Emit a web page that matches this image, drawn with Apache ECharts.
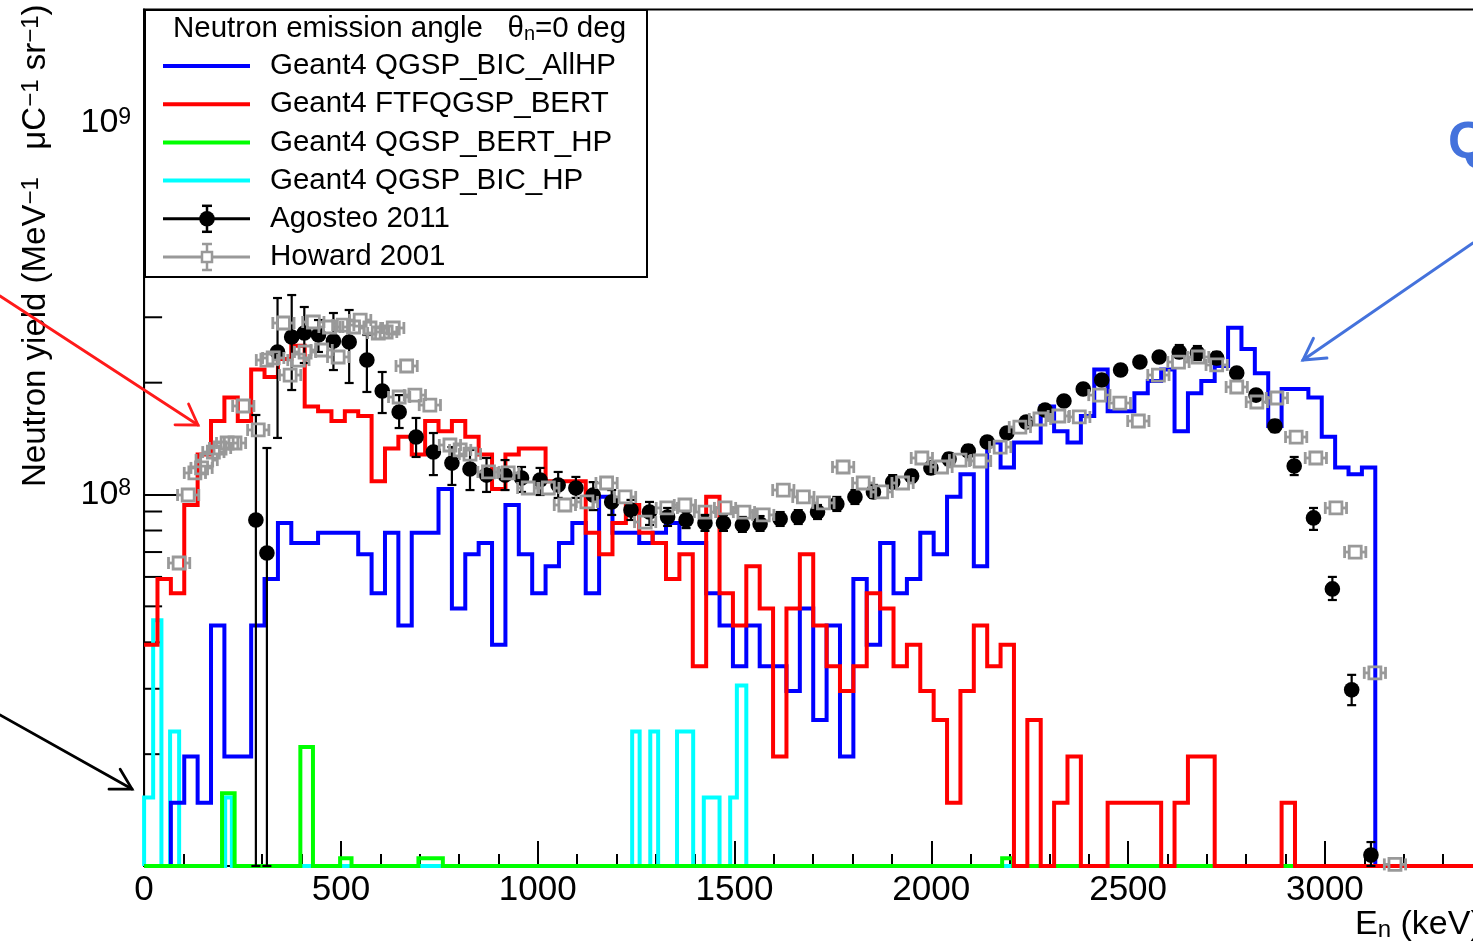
<!DOCTYPE html>
<html>
<head>
<meta charset="utf-8">
<script src="https://cdn.jsdelivr.net/npm/echarts@6/dist/echarts.min.js"></script>
<style>
html, body { margin: 0; padding: 0; background: #fff; }
#chart { width: 1473px; height: 946px; }
</style>
</head>
<body>
<div id="chart"></div>
<script>
// ---- Data -------------------------------------------------------------
// Yields are given in units of 1e7 neutrons MeV^-1 uC^-1 sr^-1.
const UNIT = 1e7;
const BIN_WIDTH = 34;      // keV, simulated histograms
const E_MAX = 3400;        // keV, end of the histogram range

// Geant4 QGSP_BIC_AllHP, 100 bins of 34 keV
const bicAllHP = [
  0, 0, 1.48, 1.97, 1.48, 4.44, 1.97, 1.97, 4.44, 5.92,
  8.38, 7.40, 7.40, 7.89, 7.89, 7.89, 6.90, 5.42, 7.89, 4.44,
  7.89, 7.89, 10.35, 4.93, 6.90, 7.40, 3.94, 9.37, 6.90, 5.42,
  6.41, 7.40, 8.38, 5.42, 9.86, 7.89, 7.89, 7.40, 7.89, 8.38,
  7.40, 7.40, 5.42, 4.44, 3.45, 4.44, 3.45, 3.45, 2.96, 4.93,
  2.47, 4.44, 1.97, 5.92, 3.94, 7.40, 5.42, 5.92, 7.89, 6.90,
  9.86, 11.34, 6.41, 13.80, 11.83, 13.80, 13.80, 17.26, 14.79, 13.80,
  16.27, 21.69, 16.76, 16.76, 18.73, 20.21, 21.69, 14.79, 18.73, 20.21,
  22.19, 28.10, 24.65, 21.20, 15.28, 19.23, 19.23, 18.24, 14.30, 11.83,
  11.34, 11.83, 0, 0, 0, 0, 0, 0, 0, 0
];

// Geant4 FTFQGSP_BERT, 100 bins of 34 keV
const ftfqgspBert = [
  3.94, 5.92, 5.42, 9.37, 12.82, 15.78, 18.24, 15.78, 21.69, 20.71,
  23.17, 25.14, 17.26, 16.76, 15.78, 16.76, 16.27, 10.85, 13.31, 14.30,
  12.82, 15.78, 14.79, 15.78, 14.30, 12.82, 10.35, 12.82, 13.31, 13.31,
  10.85, 10.85, 10.85, 7.89, 6.90, 8.38, 9.37, 7.89, 7.40, 5.92,
  6.90, 3.45, 9.86, 5.42, 4.44, 6.41, 4.93, 1.97, 4.93, 6.90,
  4.44, 3.45, 2.96, 3.45, 5.42, 4.93, 3.45, 3.94, 2.96, 2.47,
  1.48, 2.96, 4.44, 3.45, 3.94, 0, 2.47, 0, 1.48, 1.97,
  0, 0, 1.48, 1.48, 1.48, 1.48, 0, 1.48, 1.97, 1.97,
  0, 0, 0, 0, 0, 1.48, 0, 0, 0, 0,
  0, 0, 0, 0, 0, 0, 0, 0, 0, 0
];

// Geant4 QGSP_BERT_HP, non-empty bins: [E low keV, E high keV, yield]
const qgspBertHP = [
  [198, 230, 1.57], [397, 429, 2.09], [498, 527, 1.05],
  [697, 759, 1.05], [2180, 2208, 1.05]
];

// Geant4 QGSP_BIC_HP, non-empty bins: [E low keV, E high keV, yield]
const qgspBicHP = [
  [0, 23, 1.53], [23, 44, 4.59], [66, 89, 2.30], [206, 223, 1.53],
  [1240, 1259, 2.30], [1286, 1306, 2.30], [1354, 1395, 2.30],
  [1422, 1462, 1.53], [1489, 1506, 1.53], [1506, 1530, 3.06]
];

// Agosteo 2011: energy (keV), yield, lower and upper error limits
const agosteoE = [
  284, 312, 339, 375, 407, 443, 481, 521, 566, 605,
  648, 691, 735, 782, 828, 870, 917, 959, 1006, 1052,
  1097, 1141, 1188, 1237, 1284, 1330, 1377, 1425, 1472, 1520,
  1565, 1616, 1662, 1711, 1760, 1806, 1853, 1902, 1950, 1999,
  2045, 2094, 2142, 2192, 2241, 2289, 2337, 2386, 2433, 2481,
  2530, 2579, 2630, 2676, 2725, 2776, 2825, 2873, 2922, 2971,
  3019, 3068, 3117
];
const agosteoY = [
  8.54, 6.96, 24.19, 26.55, 27.21, 26.88, 25.89, 25.73, 23.01, 18.99,
  16.68, 14.28, 13.01, 12.15, 11.71, 11.28, 11.28, 11.07, 10.94, 10.61,
  10.41, 9.97, 9.55, 9.08, 8.97, 8.70, 8.54, 8.38, 8.38, 8.28,
  8.33, 8.59, 8.70, 8.97, 9.43, 9.85, 10.16, 10.80, 11.21, 11.79,
  12.46, 13.09, 13.85, 14.64, 15.67, 16.89, 17.85, 19.23, 20.34, 21.63,
  22.73, 23.45, 24.19, 24.04, 23.31, 21.23, 18.52, 15.29, 11.93, 8.65,
  5.57, 2.98, 1.07
];
const agosteoLo = [
  0, 0, 14.20, 19.11, 22.59, 24.19, 21.63, 19.96, 18.88, 16.57,
  15.10, 12.62, 11.28, 10.61, 10.28, 10.16, 10.28, 10.16, 9.97, 9.79,
  9.79, 9.08, 8.81, 8.54, 8.28, 8.23, 8.12, 7.98, 7.98, 7.93,
  7.98, 8.23, 8.33, 8.59, 9.03, 9.43, 9.79, 10.41, 10.80, 11.36,
  12.00, 12.70, 13.42, 14.20, 15.19, 16.37, 17.31, 18.64, 19.71, 20.97,
  22.04, 22.73, 23.31, 23.01, 22.45, 20.59, 17.96, 14.73, 11.28, 8.03,
  5.20, 2.71, 0.98
];
const agosteoHi = [
  16.37, 13.34, 33.80, 34.43, 31.97, 29.49, 30.80, 31.38, 26.88, 21.37,
  18.52, 16.07, 14.64, 13.42, 13.18, 12.54, 12.38, 11.86, 11.79, 11.50,
  11.15, 10.80, 10.28, 9.67, 9.55, 9.20, 8.97, 8.81, 8.81, 8.70,
  8.75, 8.97, 9.08, 9.37, 9.85, 10.28, 10.61, 11.28, 11.64, 12.23,
  12.93, 13.59, 14.28, 15.10, 16.17, 17.41, 18.41, 19.84, 20.97, 22.32,
  23.45, 24.19, 25.26, 25.10, 24.19, 21.90, 19.11, 15.87, 12.62, 9.20,
  6.00, 3.27, 1.16
];

// Howard 2001: energy (keV), yield, energy half-width (keV)
const howardE = [
  89, 112, 129, 146, 159, 176, 193, 211, 231, 252,
  290, 312, 328, 354, 371, 392, 409, 430, 451, 471,
  493, 506, 532, 549, 574, 595, 615, 633, 648, 667,
  688, 726, 777, 803, 828, 875, 925, 976, 1027, 1069,
  1125, 1175, 1222, 1273, 1328, 1374, 1425, 1476, 1524, 1573,
  1624, 1675, 1726, 1776, 1827, 1874, 1927, 1976, 2026, 2073,
  2124, 2175, 2225, 2276, 2324, 2376, 2427, 2479, 2526, 2577,
  2628, 2678, 2725, 2776, 2827, 2878, 2927, 2977, 3028, 3077,
  3127, 3178
];
const howardY = [
  6.54, 9.97, 11.43, 11.79, 12.38, 13.01, 13.34, 13.76, 13.76, 17.31,
  14.92, 23.01, 23.31, 28.95, 20.97, 23.01, 24.19, 29.13, 24.49, 28.24,
  23.45, 28.59, 28.24, 29.49, 28.07, 27.21, 27.38, 28.07, 18.30, 22.18,
  18.52, 17.41, 13.59, 13.18, 12.85, 11.50, 11.43, 10.41, 10.41, 9.37,
  9.55, 10.74, 9.85, 8.43, 9.20, 9.37, 8.97, 9.20, 8.97, 8.81,
  10.28, 9.85, 9.49, 11.86, 10.74, 10.16, 10.74, 12.54, 11.86, 12.38,
  12.31, 13.42, 15.19, 15.97, 16.27, 16.17, 18.52, 17.63, 15.77, 20.97,
  22.73, 23.45, 22.32, 19.47, 17.74, 18.19, 14.28, 12.54, 9.20, 7.00,
  3.31, 1.01
];
const howardDE = 27;

// Axis settings
const X_MAX = 3500;
const X_STEP = 500;
const Y_MIN = 1e7;
const Y_MAX = 2.021e9;
const yMinorTicks = [2e7, 3e7, 4e7, 5e7, 6e7, 7e7, 8e7, 9e7,
                     2e8, 3e8, 4e8, 5e8, 6e8, 7e8, 8e8, 9e8, 2e9];

// ---- Helpers ----------------------------------------------------------
const FONT = "'Liberation Sans', Arial, Helvetica, sans-serif";
const GREY = '#999999';

// empty or below-range bins sit on the bottom of the frame
function clampYield(v) { return Math.max(v * UNIT, Y_MIN); }

function regularSteps(vals) {
  const pts = vals.map((v, i) => [i * BIN_WIDTH, clampYield(v)]);
  pts.push([vals.length * BIN_WIDTH, clampYield(vals[vals.length - 1])]);
  return pts;
}

function sparseSteps(bins) {
  const pts = [[0, Y_MIN]];
  let prevHi = null;
  bins.forEach(([lo, hi, v]) => {
    if (prevHi !== null && prevHi !== lo) pts.push([prevHi, Y_MIN]);
    pts.push([lo, clampYield(v)]);
    prevHi = hi;
  });
  pts.push([prevHi, Y_MIN]);
  pts.push([E_MAX, Y_MIN]);
  return pts;
}

function histSeries(name, color, data) {
  return {
    name, type: 'line', step: 'end', data,
    showSymbol: false, symbol: 'none', clip: false, silent: true,
    animation: false,
    lineStyle: { color, width: 4, join: 'miter', cap: 'butt' },
    z: 3
  };
}

// ---- Chart ------------------------------------------------------------
const chart = echarts.init(document.getElementById('chart'), null, { renderer: 'canvas' });

const GRID = { left: 144.1, top: 9.5, width: 1377.6, height: 856.5 };

const option = {
  backgroundColor: '#fff',
  animation: false,
  grid: {
    left: GRID.left, top: GRID.top, width: GRID.width, height: GRID.height,
    show: true, borderColor: '#000', borderWidth: 2, backgroundColor: 'transparent',
    containLabel: false, outerBoundsMode: 'none'
  },
  xAxis: {
    type: 'value', min: 0, max: X_MAX, interval: X_STEP,
    axisLine: { lineStyle: { color: '#000', width: 2 } },
    axisTick: { inside: true, length: 25, lineStyle: { color: '#000', width: 2 } },
    minorTick: { show: true, splitNumber: 5, length: 12, lineStyle: { color: '#000', width: 2 } },
    splitLine: { show: false },
    axisLabel: {
      color: '#000', fontSize: 35, fontFamily: FONT, margin: 7,
      formatter: v => (v % X_STEP === 0 ? String(v) : '')
    }
  },
  yAxis: {
    type: 'log', logBase: 10, min: Y_MIN, max: Y_MAX,
    axisLine: { lineStyle: { color: '#000', width: 2 } },
    axisTick: { inside: true, length: 36, lineStyle: { color: '#000', width: 2 } },
    minorTick: { show: false },
    splitLine: { show: false },
    axisLabel: {
      margin: 13, color: '#000',
      formatter: v => {
        const p = Math.log10(v);
        const r = Math.round(p);
        if (Math.abs(p - r) > 1e-6 || r <= 7) return '';
        return '{a|10}{s|' + r + '}';
      },
      rich: {
        a: { fontSize: 34, lineHeight: 34, fontFamily: FONT, color: '#000', verticalAlign: 'bottom' },
        s: { fontSize: 23, lineHeight: 23, fontFamily: FONT, color: '#000', verticalAlign: 'top', padding: [0, 0, 13, 0] }
      }
    }
  },
  series: [
    // log-axis minor ticks (2..9 x 10^n)
    {
      type: 'custom', silent: true, z: 1, clip: false,
      data: yMinorTicks.map(v => [0, v]),
      encode: { x: 0, y: 1 },
      renderItem: (params, api) => {
        const p = api.coord([0, api.value(1)]);
        return {
          type: 'line',
          shape: { x1: p[0], y1: p[1], x2: p[0] + 18, y2: p[1] },
          style: { stroke: '#000', lineWidth: 2 }
        };
      }
    },
    histSeries('Geant4 QGSP_BIC_HP', '#00ffff', sparseSteps(qgspBicHP)),
    histSeries('Geant4 QGSP_BIC_AllHP', '#0000ff', regularSteps(bicAllHP)),
    histSeries('Geant4 QGSP_BERT_HP', '#00ff00', sparseSteps(qgspBertHP)),
    histSeries('Geant4 FTFQGSP_BERT', '#ff0000', regularSteps(ftfqgspBert)),
    {
      name: 'Agosteo 2011', type: 'custom', z: 5, clip: false, silent: true,
      data: agosteoE.map((e, i) => [e, agosteoY[i] * UNIT, agosteoLo[i] * UNIT, agosteoHi[i] * UNIT]),
      encode: { x: 0, y: 1 },
      renderItem: (params, api) => {
        const e = api.value(0);
        const c = api.coord([e, api.value(1)]);
        const lo = api.coord([e, Math.max(api.value(2), Y_MIN)]);
        const hi = api.coord([e, api.value(3)]);
        const st = { stroke: '#000', lineWidth: 2.2 };
        return {
          type: 'group',
          children: [
            { type: 'line', shape: { x1: c[0], y1: hi[1], x2: c[0], y2: lo[1] }, style: st },
            { type: 'line', shape: { x1: c[0] - 4.5, y1: hi[1], x2: c[0] + 4.5, y2: hi[1] }, style: st },
            { type: 'line', shape: { x1: c[0] - 4.5, y1: lo[1], x2: c[0] + 4.5, y2: lo[1] }, style: st },
            { type: 'circle', shape: { cx: c[0], cy: c[1], r: 7.8 }, style: { fill: '#000' } }
          ]
        };
      }
    },
    {
      name: 'Howard 2001', type: 'custom', z: 6, clip: false, silent: true,
      data: howardE.map((e, i) => [e, howardY[i] * UNIT]),
      encode: { x: 0, y: 1 },
      renderItem: (params, api) => {
        const e = api.value(0), y = api.value(1);
        const c = api.coord([e, y]);
        const l = api.coord([e - howardDE, y]);
        const r = api.coord([e + howardDE, y]);
        const st = { stroke: GREY, lineWidth: 2.8, fill: null };
        const h = 6;
        const cap = 6;
        return {
          type: 'group',
          children: [
            { type: 'line', shape: { x1: l[0], y1: c[1], x2: c[0] - h, y2: c[1] }, style: st },
            { type: 'line', shape: { x1: c[0] + h, y1: c[1], x2: r[0], y2: c[1] }, style: st },
            { type: 'line', shape: { x1: l[0], y1: c[1] - cap, x2: l[0], y2: c[1] + cap }, style: st },
            { type: 'line', shape: { x1: r[0], y1: c[1] - cap, x2: r[0], y2: c[1] + cap }, style: st },
            { type: 'rect', shape: { x: c[0] - h, y: c[1] - h, width: 2 * h, height: 2 * h },
              style: { stroke: GREY, lineWidth: 2.8, fill: 'rgba(255,255,255,0)' } }
          ]
        };
      }
    }
  ]
};

// ---- Legend, titles and annotations ----------------------------------
function buildGraphics() {
  const items = [];
  const LZ = 100;
  const lx = 145, ly = 10, lw = 502, lh = 267;
  const rows = [66, 104.2, 142.4, 180.6, 218.8, 257];
  const entries = [
    { label: 'Geant4 QGSP_BIC_AllHP', color: '#0000ff', kind: 'hist' },
    { label: 'Geant4 FTFQGSP_BERT', color: '#ff0000', kind: 'hist' },
    { label: 'Geant4 QGSP_BERT_HP', color: '#00ff00', kind: 'hist' },
    { label: 'Geant4 QGSP_BIC_HP', color: '#00ffff', kind: 'hist' },
    { label: 'Agosteo 2011', color: '#000', kind: 'dot' },
    { label: 'Howard 2001', color: GREY, kind: 'square' }
  ];
  items.push({ type: 'rect', z: LZ, shape: { x: lx, y: ly, width: lw, height: lh },
    style: { fill: '#fff', stroke: '#000', lineWidth: 2 } });
  items.push({ type: 'text', z: LZ + 1, x: 173, y: 29,
    style: {
      text: '{a|Neutron emission angle   \u03b8}{n|n}{a|=0 deg}',
      verticalAlign: 'middle', align: 'left',
      rich: {
        a: { fontSize: 29.5, lineHeight: 30, fontFamily: FONT, fill: '#000' },
        n: { fontSize: 20, lineHeight: 20, fontFamily: FONT, fill: '#000', verticalAlign: 'bottom', padding: [17, 0, 0, 0] }
      }
    } });
  entries.forEach((en, i) => {
    const y = rows[i];
    const x1 = 163, x2 = 250, xm = 207;
    items.push({ type: 'line', z: LZ + 1, shape: { x1, y1: y, x2, y2: y },
      style: { stroke: en.color, lineWidth: en.kind === 'hist' ? 4 : 3 } });
    if (en.kind !== 'hist') {
      const st = { stroke: en.color, lineWidth: 2.5 };
      items.push({ type: 'line', z: LZ + 1, shape: { x1: xm, y1: y - 13, x2: xm, y2: y + 13 }, style: st });
      items.push({ type: 'line', z: LZ + 1, shape: { x1: xm - 5, y1: y - 13, x2: xm + 5, y2: y - 13 }, style: st });
      items.push({ type: 'line', z: LZ + 1, shape: { x1: xm - 5, y1: y + 13, x2: xm + 5, y2: y + 13 }, style: st });
      if (en.kind === 'dot') {
        items.push({ type: 'circle', z: LZ + 2, shape: { cx: xm, cy: y, r: 7.8 }, style: { fill: '#000' } });
      } else {
        items.push({ type: 'rect', z: LZ + 2, shape: { x: xm - 5, y: y - 5, width: 10, height: 10 },
          style: { fill: '#fff', stroke: en.color, lineWidth: 2.5 } });
      }
    }
    items.push({ type: 'text', z: LZ + 1, x: 270, y: y,
      style: { text: en.label, fontSize: 29.5, fontFamily: FONT, fill: '#000',
               verticalAlign: 'middle', align: 'left' } });
  });

  // y-axis title
  items.push({
    type: 'text', x: 36, y: 487, rotation: Math.PI / 2, z: 50,
    style: {
      text: '{a|Neutron yield (MeV}{s|\u22121}{a|   \u03bcC}{s|\u22121}{a| sr}{s|\u22121}{a|)}',
      align: 'left', verticalAlign: 'middle',
      rich: {
        a: { fontSize: 33, lineHeight: 33, fontFamily: FONT, fill: '#000', verticalAlign: 'bottom' },
        s: { fontSize: 24, lineHeight: 24, fontFamily: FONT, fill: '#000', verticalAlign: 'top', padding: [0, 0, 13, 0] }
      }
    }
  });

  // x-axis title
  items.push({
    type: 'text', x: 1355, y: 925, z: 50,
    style: {
      text: '{a|E}{s|n}{a| (keV)}',
      align: 'left', verticalAlign: 'middle',
      rich: {
        a: { fontSize: 34, lineHeight: 34, fontFamily: FONT, fill: '#000', verticalAlign: 'top' },
        s: { fontSize: 24, lineHeight: 24, fontFamily: FONT, fill: '#000', verticalAlign: 'bottom', padding: [14, 0, 0, 0] }
      }
    }
  });

  // annotation arrows
  function arrow(x1, y1, x2, y2, color, width, spread, len) {
    const ang = Math.atan2(y1 - y2, x1 - x2);
    const w1 = [x2 + len * Math.cos(ang - spread), y2 + len * Math.sin(ang - spread)];
    const w2 = [x2 + len * Math.cos(ang + spread), y2 + len * Math.sin(ang + spread)];
    const st = { stroke: color, lineWidth: width, lineCap: 'round' };
    return [
      { type: 'line', z: 60, shape: { x1, y1, x2, y2 }, style: st },
      { type: 'polyline', z: 60, shape: { points: [w1, [x2, y2], w2] },
        style: Object.assign({ fill: null, lineJoin: 'miter' }, st) }
    ];
  }
  items.push(...arrow(0, 296, 198, 425, '#ff1a1a', 2.8, 0.57, 23));
  items.push(...arrow(0, 715, 132, 789, '#000', 2.8, 0.52, 23));
  items.push(...arrow(1473, 243, 1303, 360, '#4472dc', 3, 0.52, 24));

  items.push({
    type: 'text', x: 1448, y: 144, z: 60,
    style: { text: 'QGSP_BIC_AllHP', fontSize: 52, fontWeight: 'bold', fontFamily: FONT,
             fill: '#4472dc', align: 'left', verticalAlign: 'middle' }
  });
  return items;
}

option.graphic = { elements: buildGraphics() };
chart.setOption(option);
</script>
</body>
</html>
